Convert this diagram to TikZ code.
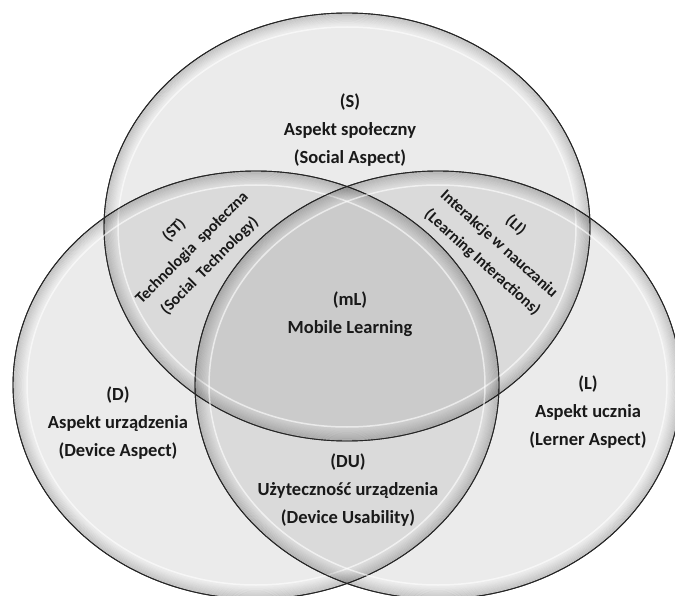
\documentclass[tikz,border=0pt]{standalone}
\usepackage{fontspec}
\setmainfont{Carlito}
\usetikzlibrary{shapes.geometric}

\begin{document}
\begin{tikzpicture}[x=1pt,y=-1pt,
  venn/.style={ellipse,draw=black!85,line width=0.9pt,fill=gray,fill opacity=0.16,
    minimum width=486pt,minimum height=428pt,inner sep=0},
  aspect/.style={align=center,font=\bfseries\fontsize{18.5}{28}\selectfont,text=black!90},
  overlap/.style={aspect,font=\bfseries\fontsize{16}{25}\selectfont},
]
  \useasboundingbox (0,0) rectangle (675,596);
  \clip (0,0) rectangle (675,596);
  % the three aspects
  \node[venn] (S) at (347,227) {};
  \node[venn] (D) at (256,385) {};
  \node[venn] (L) at (438,385) {};
  % dark rim and light gloss inside each circle
  \foreach \c in {S,D,L}{
    \foreach \i [evaluate=\i as \op using 0.15-0.014*\i] in {1,...,10}
      \draw[black,opacity=\op,line width=1.2pt] (\c) ellipse ({243-1.1*\i} and {214-1.1*\i});
    \draw[white,opacity=0.6,line width=1.5pt] (\c) ellipse (229 and 200);
    \draw[black!85,line width=0.9pt] (\c) ellipse (243 and 214);
  }
  % labels
  \node[aspect] (txtS) at (350,130) {(S)\\Aspekt społeczny\\(Social Aspect)};
  \node[overlap,rotate=45] (txtST) at (192,248) {(ST)\\Technologia\ \ społeczna\\(Social\ \ Technology)};
  \node[overlap,rotate=-42] (txtLI) at (499,244) {(LI)\\Interakcje w nauczaniu\\(Learning Interactions)};
  \node[aspect] (txtmL) at (350,314) {(mL)\\Mobile Learning};
  \node[aspect] (txtD) at (118,423) {(D)\\Aspekt urządzenia\\(Device Aspect)};
  \node[aspect] (txtDU) at (348,490) {(DU)\\Użyteczność urządzenia\\(Device Usability)};
  \node[aspect] (txtL) at (588,412) {(L)\\Aspekt ucznia\\(Lerner Aspect)};
\end{tikzpicture}
\end{document}
